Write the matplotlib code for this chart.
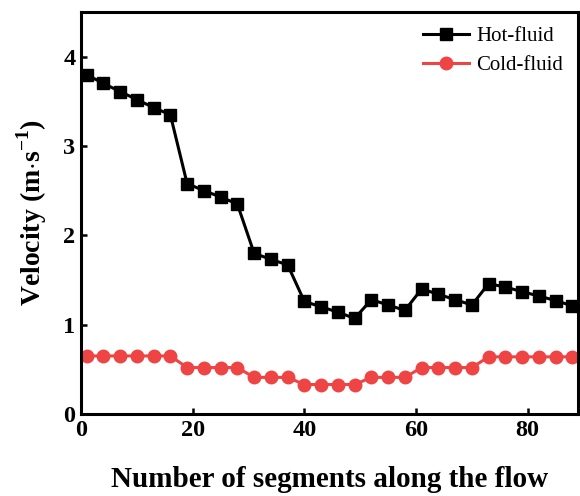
import numpy as np
import matplotlib
matplotlib.use("Agg")
import matplotlib.pyplot as plt

plt.rcParams['font.family'] = ['Liberation Serif', 'DejaVu Serif']
plt.rcParams['mathtext.fontset'] = 'custom'
plt.rcParams['mathtext.rm'] = 'Liberation Serif'
plt.rcParams['mathtext.bf'] = 'Liberation Serif:bold'

# segment index along the flow
segments = [1, 4, 7, 10, 13, 16, 19, 22, 25, 28, 31, 34, 37, 40, 43,
            46, 49, 52, 55, 58, 61, 64, 67, 70, 73, 76, 79, 82, 85, 88]

hot_velocity = [3.80, 3.70, 3.61, 3.52, 3.43, 3.35,
                2.58, 2.50, 2.43, 2.35,
                1.80, 1.73, 1.67,
                1.26, 1.20, 1.14, 1.07,
                1.28, 1.22, 1.16,
                1.40, 1.34, 1.28, 1.22,
                1.46, 1.42, 1.37, 1.32, 1.27, 1.21]

cold_velocity = [0.65, 0.65, 0.65, 0.65, 0.65, 0.65,
                 0.52, 0.52, 0.52, 0.52,
                 0.41, 0.41, 0.41,
                 0.33, 0.33, 0.33, 0.33,
                 0.41, 0.41, 0.41,
                 0.52, 0.52, 0.52, 0.52,
                 0.64, 0.64, 0.64, 0.64, 0.64, 0.64]

fig = plt.figure(figsize=(5.8, 4.96), dpi=100)
ax = fig.add_axes([81/580, 1-414/496, 497/580, 402/496])

ax.plot(segments, hot_velocity, color='black', lw=2.2, marker='s',
        markersize=8.5, label='Hot-fluid')
ax.plot(segments, cold_velocity, color='#EF4444', lw=2.2, marker='o',
        markersize=9, label='Cold-fluid')

ax.set_xlim(0, 89)
ax.set_ylim(0, 4.5)
ax.set_xticks([0, 20, 40, 60, 80])
ax.set_yticks([0, 1, 2, 3, 4])

for sp in ax.spines.values():
    sp.set_linewidth(2.2)
ax.tick_params(direction='in', length=4.5, width=1.8, labelsize=17.5, pad=4)
for lab in ax.get_xticklabels() + ax.get_yticklabels():
    lab.set_fontweight('bold')

ax.set_xlabel('Number of segments along the flow', fontsize=21,
              fontweight='bold', labelpad=18)
ax.set_ylabel(r'Velocity (m$\cdot$s$^{\mathbf{-1}}$)', fontsize=20,
              fontweight='bold', labelpad=10)

leg = ax.legend(loc='upper right', frameon=False, fontsize=15,
                handlelength=2.2, handletextpad=0.35, borderaxespad=0.3,
                labelspacing=0.45)

fig.savefig('out.png', dpi=100)
